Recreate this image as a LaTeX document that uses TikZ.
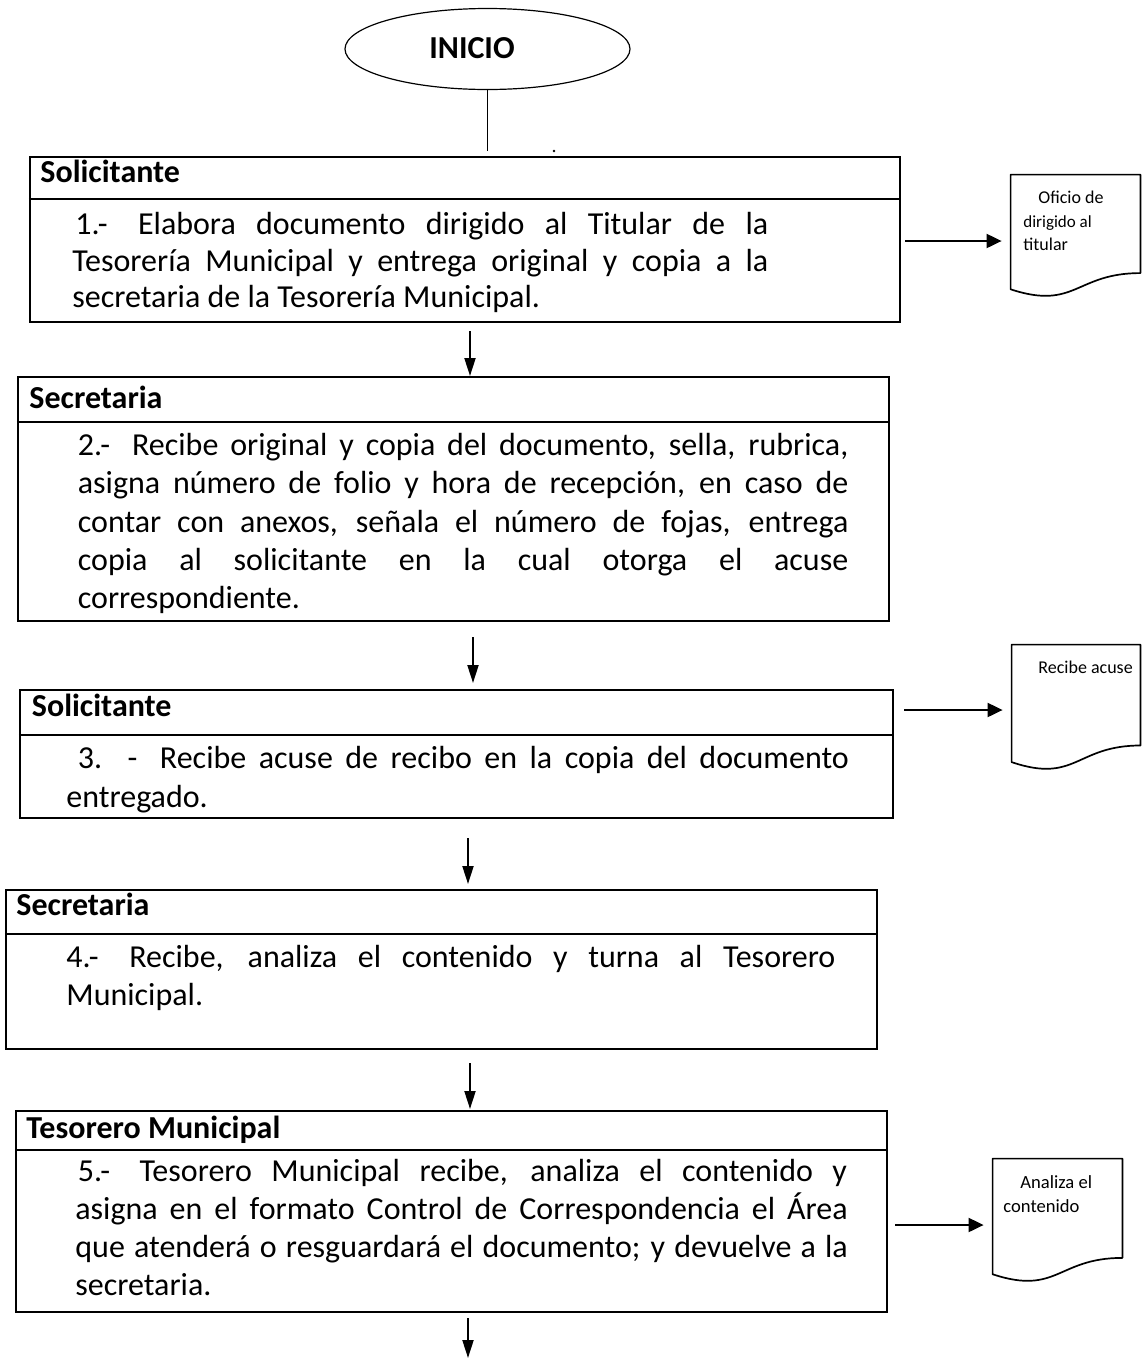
\documentclass[tikz,border=0pt]{standalone}
\usepackage{fontspec}
\setmainfont{Carlito}
\usetikzlibrary{arrows.meta,calc,shapes.geometric}

\tikzset{
  stepbox/.style={draw, rectangle, line width=1.1pt, inner sep=0pt},
  divider/.style={line width=1.1pt},
  startnode/.style={draw, ellipse, line width=0.6pt, inner sep=0pt,
    minimum width=142.5pt, minimum height=40.5pt},
  startline/.style={line width=0.6pt},
  head/.style={font=\fontsize{16pt}{19pt}\selectfont\bfseries, anchor=base west, inner sep=0pt},
  body/.style={font=\fontsize{16pt}{19pt}\selectfont, anchor=base west, inner sep=0pt},
  note/.style={font=\fontsize{9pt}{11pt}\selectfont, anchor=base west, inner sep=0pt},
  docnode/.style={rectangle, inner sep=0pt, minimum width=64.5pt},
  docline/.style={line width=0.85pt, line join=round},
  downarrow/.style={line width=1pt, -{Triangle[length=9pt,width=5.5pt]}},
  sidearrow/.style={line width=1pt, -{Triangle[length=7.5pt,width=7pt]}, shorten >=4.5pt},
}

% outline of a flowchart "document" symbol laid over a rectangular node
\newcommand\docoutline[1]{%
  \draw[docline] (#1.north west) -- (#1.north east)
    -- ($(#1.north east)!0.802!(#1.south east)$)
    .. controls ($(#1.north)!0.802!(#1.south)$) and ($(#1.north)!1.1075!(#1.south)$) ..
    ($(#1.north west)!0.934!(#1.south west)$) -- cycle;}

\begin{document}
\begin{tikzpicture}[x=0.5pt,y=-0.5pt]
\useasboundingbox (0,0) rectangle (1146,1361);

% start terminal
\node[startnode] (inicio) at (487.5,49) {};
\node[head, anchor=center] (iniciotxt) at (472,48) {INICIO};
\coordinate (c0) at (489,151);
\draw[startline] (inicio.south) -- (inicio.south |- c0);
\fill (554,151) circle (0.7pt);

% process boxes
\node[stepbox, minimum width=435pt,   minimum height=82.5pt] (b1) at (465,239.5) {};
\node[stepbox, minimum width=435.5pt, minimum height=122pt]  (b2) at (453.5,499) {};
\node[stepbox, minimum width=436.5pt, minimum height=64pt]   (b3) at (456.5,754) {};
\node[stepbox, minimum width=435.5pt, minimum height=79.5pt] (b4) at (441.5,969.5) {};
\node[stepbox, minimum width=435.5pt, minimum height=100.5pt] (b5) at (451.5,1211.5) {};

\draw[divider] ([yshift=-21.5pt]b1.north west) -- ([yshift=-21.5pt]b1.north east);
\draw[divider] ([yshift=-23pt]b2.north west) -- ([yshift=-23pt]b2.north east);
\draw[divider] ([yshift=-23pt]b3.north west) -- ([yshift=-23pt]b3.north east);
\draw[divider] ([yshift=-22.5pt]b4.north west) -- ([yshift=-22.5pt]b4.north east);
\draw[divider] ([yshift=-20pt]b5.north west) -- ([yshift=-20pt]b5.north east);

% step 1
\node[head] (h1) at (40,182) {Solicitante};
\node[body] (l1a) at (75,234) {\makebox[346.5pt][s]{1.-\hspace{5pt} Elabora documento dirigido al Titular de la}};
\node[body] (l1b) at (72,271) {\makebox[348pt][s]{Tesorería Municipal y entrega original y copia a la}};
\node[body] (l1c) at (72,307) {secretaria de la Tesorería Municipal.};

% step 2
\node[head] (h2) at (29,408) {Secretaria};
\node[body] (l2a) at (77.5,455) {\makebox[385.25pt][s]{2.-\hspace{5pt} Recibe original y copia del documento, sella, rubrica,}};
\node[body] (l2b) at (77.5,493) {\makebox[385.25pt][s]{asigna número de folio y hora de recepción, en caso de}};
\node[body] (l2c) at (77.5,532) {\makebox[385.25pt][s]{contar con anexos, señala el número de fojas, entrega}};
\node[body] (l2d) at (77.5,570) {\makebox[385.25pt][s]{copia al solicitante en la cual otorga el acuse}};
\node[body] (l2e) at (77.5,608) {correspondiente.};

% step 3
\node[head] (h3) at (31.5,716) {Solicitante};
\node[body] (l3a) at (77.5,768) {\makebox[385.5pt][s]{3. -\hspace{5pt} Recibe acuse de recibo en la copia del documento}};
\node[body] (l3b) at (66,807) {entregado.};

% step 4
\node[head] (h4) at (16,915) {Secretaria};
\node[body] (l4a) at (66,967) {\makebox[384.5pt][s]{4.-\hspace{5pt} Recibe, analiza el contenido y turna al Tesorero}};
\node[body] (l4b) at (66,1005) {Municipal.};

% step 5
\node[head] (h5) at (26,1138) {Tesorero Municipal};
\node[body] (l5a) at (77.5,1181) {\makebox[384.6pt][s]{5.-\hspace{5pt} Tesorero Municipal recibe, analiza el contenido y}};
\node[body] (l5b) at (75,1219) {\makebox[386.2pt][s]{asigna en el formato Control de Correspondencia el Área}};
\node[body] (l5c) at (75,1257) {\makebox[386.2pt][s]{que atenderá o resguardará el documento; y devuelve a la}};
\node[body] (l5d) at (75,1295) {secretaria.};

% flow arrows between the steps
\coordinate (a1) at (470,331);  \coordinate (a1e) at (470,376);
\coordinate (a2) at (473,637);  \coordinate (a2e) at (473,683);
\coordinate (a3) at (468,838);  \coordinate (a3e) at (468,884);
\coordinate (a4) at (470,1063); \coordinate (a4e) at (470,1109);
\coordinate (a5) at (468,1318); \coordinate (a5e) at (468,1358);
\draw[downarrow] (a1) -- (a1e);
\draw[downarrow] (a2) -- (a2e);
\draw[downarrow] (a3) -- (a3e);
\draw[downarrow] (a4) -- (a4e);
\draw[downarrow] (a5) -- (a5e);

% documents produced
\node[docnode, minimum height=61pt] (d1) at (1075.5,236) {};
\node[docnode, minimum width=64pt, minimum height=62.5pt] (d2) at (1076,707.5) {};
\node[docnode, minimum height=61.5pt] (d3) at (1057.5,1220.5) {};
\docoutline{d1}
\docoutline{d2}
\docoutline{d3}

\node[note] (n1a) at (1038,203) {Oficio de};
\node[note, font=\fontsize{8.5pt}{10pt}\selectfont] (n1b) at (1023,227) {dirigido al};
\node[note] (n1c) at (1023,250) {titular};
\node[note] (n2a) at (1038,673) {Recibe acuse};
\node[note, font=\fontsize{9.3pt}{11pt}\selectfont] (n3a) at (1020,1188) {Analiza el};
\node[note, font=\fontsize{9.3pt}{11pt}\selectfont] (n3b) at (1003,1212) {contenido};

\coordinate (s1) at (905,241);
\coordinate (s2) at (904,710);
\coordinate (s3) at (895,1225);
\draw[sidearrow] (s1) -- (d1.west |- s1);
\draw[sidearrow] (s2) -- (d2.west |- s2);
\draw[sidearrow] (s3) -- (d3.west |- s3);
\end{tikzpicture}
\end{document}
